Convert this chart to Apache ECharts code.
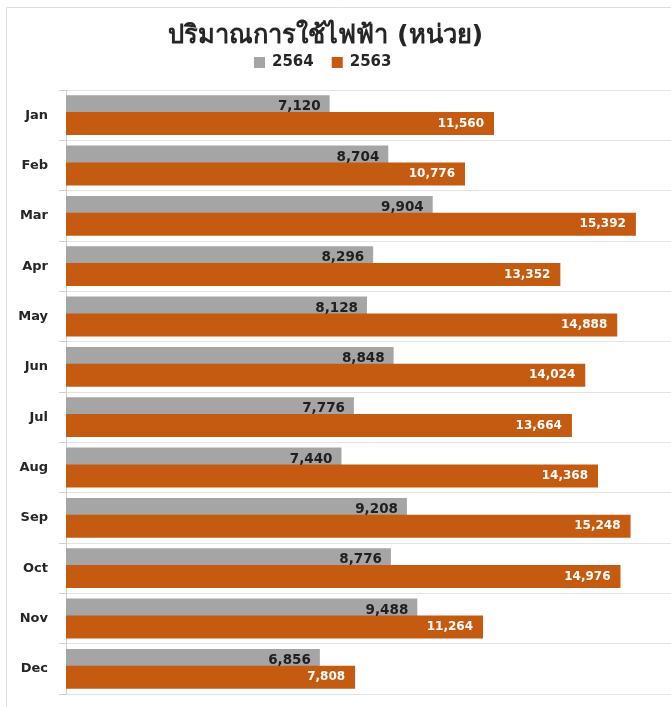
<!DOCTYPE html>
<html>
<head>
<meta charset="utf-8">
<script src="https://cdn.jsdelivr.net/npm/echarts@6/dist/echarts.min.js"></script>
<style>
html,body{margin:0;padding:0;background:#fff;}
#c{width:671px;height:707px;}
</style>
</head>
<body>
<div id="c"></div>
<script>
const months = ['Jan','Feb','Mar','Apr','May','Jun','Jul','Aug','Sep','Oct','Nov','Dec'];
const values2564 = [7120, 8704, 9904, 8296, 8128, 8848, 7776, 7440, 9208, 8776, 9488, 6856];
const values2563 = [11560, 10776, 15392, 13352, 14888, 14024, 13664, 14368, 15248, 14976, 11264, 7808];
const titleText = 'ปริมาณการใช้ไฟฟ้า (หน่วย)';

const chart = echarts.init(document.getElementById('c'), null, {renderer:'canvas'});
const fmt = p => p.value.toLocaleString('en-US');
const FONT = '"DejaVu Sans", "Noto Sans", sans-serif';
chart.setOption({
  animation:false,
  backgroundColor:'#fff',
  graphic:[{type:'rect', silent:true, z:-10, shape:{x:6.5,y:7.5,width:700,height:720}, style:{fill:'none', stroke:'#dedede', lineWidth:1}}],
  title:{text:titleText, left:163, top:18, textStyle:{fontFamily:FONT, fontSize:25.5, fontWeight:'bold', color:'#262626'}},
  legend:{left:254, top:55, padding:0, itemWidth:11, itemHeight:11, itemGap:18, icon:'rect',
    textStyle:{fontFamily:FONT, fontSize:15, fontWeight:'bold', color:'#262626', padding:[0,0,0,2]}},
  grid:{left:66, right:0, top:90, bottom:13, containLabel:false},
  xAxis:{type:'value', min:0, max:16340, show:false},
  yAxis:{type:'category', data:months, inverse:true,
    axisLine:{show:true, lineStyle:{color:'#d0d0d0'}},
    axisTick:{show:true, length:7, lineStyle:{color:'#d0d0d0'}},
    splitLine:{show:true, lineStyle:{color:'#e3e3e3'}},
    axisLabel:{margin:18, fontFamily:FONT, fontSize:13, fontWeight:'bold', color:'#262626'}},
  series:[
    {name:'2564', type:'bar', data:values2564, barWidth:23, barGap:'-27%',
      itemStyle:{color:'#a5a5a5'},
      label:{show:true, position:'insideRight', distance:9, formatter:fmt, fontFamily:FONT, fontSize:13.5, fontWeight:'bold', color:'#1f1f1f'}},
    {name:'2563', type:'bar', data:values2563, barWidth:23,
      itemStyle:{color:'#c55a11'},
      label:{show:true, position:'insideRight', distance:10, formatter:fmt, fontFamily:FONT, fontSize:12, fontWeight:'bold', color:'#ffffff'}}
  ]
});
</script>
</body>
</html>
